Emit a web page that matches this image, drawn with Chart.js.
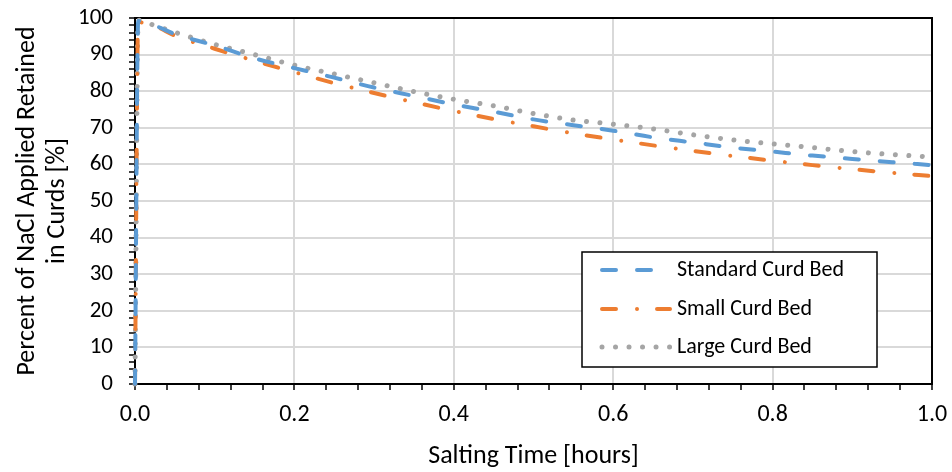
<!DOCTYPE html>
<html>
<head>
<meta charset="utf-8">
<script src="https://cdn.jsdelivr.net/npm/chart.js@4.4.1/dist/chart.umd.min.js"></script>
<style>
  html, body { margin: 0; padding: 0; background: #fff; }
  #wrap { width: 952px; height: 472px; position: relative; }
</style>
</head>
<body>
<div id="wrap"><canvas id="saltChart"></canvas></div>
<script>
// salting time in hours
const saltingTime = [0, 0.004, 0.025, 0.05, 0.1, 0.15, 0.2, 0.25, 0.3, 0.35, 0.4, 0.45, 0.5,
  0.55, 0.6, 0.65, 0.7, 0.75, 0.8, 0.85, 0.9, 0.95, 1.0];
// percent of applied NaCl retained in curds
const standardBed = [0, 99.2, 97.9, 95.6, 92.5, 89.0, 86.3, 83.7, 81.0, 78.7, 76.4, 74.4, 72.3,
  70.7, 69.2, 67.4, 66.0, 64.6, 63.5, 62.4, 61.5, 60.6, 59.8];
const smallBed = [0, 98.8, 97.8, 95.2, 91.6, 88.3, 85.2, 82.2, 79.5, 77.0, 74.6, 72.4, 70.4,
  68.5, 66.8, 65.2, 63.7, 62.3, 61.0, 59.8, 58.7, 57.7, 56.8];
const largeBed = [0, 99.4, 97.9, 96.1, 92.8, 90.0, 87.1, 84.7, 82.3, 79.9, 77.8, 76.0, 73.9,
  72.1, 71.0, 69.7, 68.1, 66.7, 65.6, 64.6, 63.5, 62.7, 62.0];
const seriesNames = ["Standard Curd Bed", "Small Curd Bed", "Large Curd Bed"];

const FONT = "Carlito, Calibri, Lato, sans-serif";
const toPoints = (vals) => vals.map((v, i) => ({ x: saltingTime[i], y: v }));

// box around the plot area (top/right edges too)
const frame = {
  id: "plotFrame",
  beforeDatasetsDraw(chart) {
    const { ctx, chartArea: a } = chart;
    ctx.save();
    ctx.strokeStyle = "#000";
    ctx.lineWidth = 2;
    ctx.strokeRect(a.left, a.top, a.right - a.left, a.bottom - a.top);
    ctx.restore();
  },
};

// framed legend inside the plot, samples use each dataset's own dash
const boxedLegend = {
  id: "boxedLegend",
  afterDraw(chart) {
    const { ctx } = chart;
    const x = 582, y = 252, w = 295, h = 115;
    ctx.save();
    ctx.fillStyle = "#fff";
    ctx.fillRect(x, y, w, h);
    ctx.strokeStyle = "#000";
    ctx.lineWidth = 1.5;
    ctx.strokeRect(x, y, w, h);
    const rows = [270, 309, 347];
    chart.data.datasets.forEach((ds, i) => {
      ctx.beginPath();
      ctx.strokeStyle = ds.borderColor;
      ctx.lineWidth = ds.borderWidth;
      ctx.lineCap = "round";
      ctx.setLineDash(ds.borderDash || []);
      ctx.moveTo(602, rows[i]);
      ctx.lineTo(670, rows[i]);
      ctx.stroke();
      ctx.setLineDash([]);
      ctx.fillStyle = "#000";
      ctx.font = "22px " + FONT;
      ctx.textBaseline = "middle";
      ctx.fillText(ds.label, 677, rows[i]);
    });
    ctx.restore();
  },
};

// keep the plot area fixed: no extra room for overhanging tick labels
const noOverhang = (scale) => {
  scale.paddingTop = 0;
  scale.paddingBottom = 0;
  scale.paddingLeft = 0;
  scale.paddingRight = 0;
};

const ctx = document.getElementById("saltChart").getContext("2d");
new Chart(ctx, {
  type: "line",
  data: {
    datasets: [
      {
        label: seriesNames[0],
        data: toPoints(standardBed),
        borderColor: "#5b9bd5",
        borderWidth: 4,
        borderDash: [14, 21],
        borderCapStyle: "round",
      },
      {
        label: seriesNames[1],
        data: toPoints(smallBed),
        borderColor: "#ed7d31",
        borderWidth: 4,
        borderDash: [14, 21, 0.01, 20],
        borderCapStyle: "round",
      },
      {
        label: seriesNames[2],
        data: toPoints(largeBed),
        borderColor: "#a5a5a5",
        borderWidth: 5,
        borderDash: [0.01, 13.5],
        borderCapStyle: "round",
      },
    ],
  },
  options: {
    responsive: true,
    maintainAspectRatio: false,
    animation: false,
    layout: { padding: { top: 18, right: 20, bottom: 0, left: 0 } },
    elements: {
      point: { radius: 0 },
      line: { cubicInterpolationMode: "monotone", fill: false },
    },
    datasets: { line: { clip: 8 } },
    plugins: {
      legend: { display: false },
      tooltip: { enabled: false },
    },
    scales: {
      x: {
        type: "linear",
        min: 0,
        max: 1,
        ticks: {
          stepSize: 0.04,
          autoSkip: false,
          maxRotation: 0,
          padding: 11,
          color: "#000",
          font: { family: FONT, size: 24, lineHeight: 1.2 },
          callback: (v) => (Math.round(v * 100) % 20 === 0 ? v.toFixed(1) : ""),
        },
        grid: {
          color: (c) => (Math.round(c.tick.value * 100) % 20 === 0 ? "#d9d9d9" : "rgba(0,0,0,0)"),
          lineWidth: 2,
          tickColor: "#000",
          tickLength: 6,
          tickWidth: 1.5,
        },
        border: { color: "#000", width: 2 },
        title: {
          display: true,
          text: "Salting Time [hours]",
          color: "#000",
          font: { family: FONT, size: 26, lineHeight: 1.15 },
          padding: { top: 4, bottom: 1 },
        },
        afterFit: (scale) => { scale.height = 88; noOverhang(scale); },
      },
      y: {
        type: "linear",
        min: 0,
        max: 100,
        ticks: {
          stepSize: 2,
          autoSkip: false,
          padding: 16,
          color: "#000",
          font: { family: FONT, size: 23 },
          callback: (v) => (v % 10 === 0 ? v : ""),
        },
        grid: {
          color: (c) => (c.tick.value % 10 === 0 ? "#d9d9d9" : "rgba(0,0,0,0)"),
          lineWidth: 2,
          tickColor: "#000",
          tickLength: 6,
          tickWidth: 1.5,
        },
        border: { color: "#000", width: 2 },
        title: {
          display: true,
          text: ["Percent of NaCl Applied Retained", "in Curds [%]"],
          color: "#000",
          font: { family: FONT, size: 26, lineHeight: 1.15 },
          padding: { top: 13, bottom: 4 },
        },
        afterFit: (scale) => { scale.width = 135; noOverhang(scale); },
      },
    },
  },
  plugins: [frame, boxedLegend],
});
</script>
</body>
</html>
